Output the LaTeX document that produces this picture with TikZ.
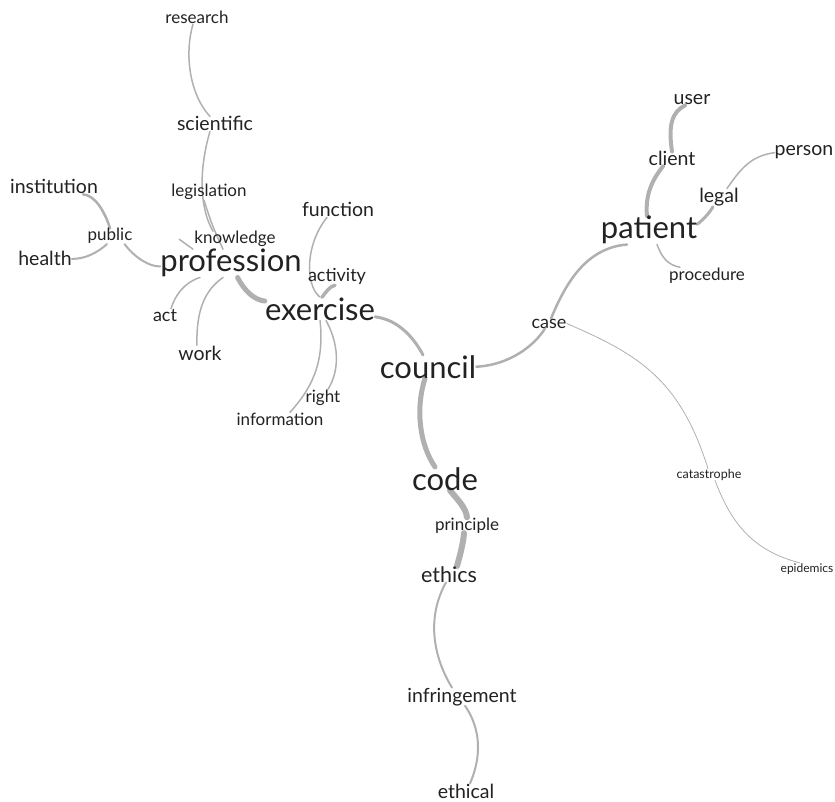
\documentclass[tikz,border=0pt]{standalone}
\usepackage{fontspec}
\setmainfont{Lato}
\usetikzlibrary{calc,backgrounds}

\definecolor{edgegray}{RGB}{176,176,176}
\definecolor{worddark}{RGB}{34,34,34}

\tikzset{
    word/.style={anchor=base, inner sep=0pt, text=worddark},
    wordL/.style={word, font=\fontsize{31}{32}\selectfont},
    wordE/.style={word, font=\fontsize{21.5}{22}\selectfont},
    wordM/.style={word, font=\fontsize{19.5}{20}\selectfont},
    wordR/.style={word, font=\fontsize{18}{19}\selectfont},
    wordS/.style={word, font=\fontsize{17}{18}\selectfont},
    wordT/.style={word, font=\fontsize{12}{13}\selectfont},
    link/.style={draw=edgegray, line cap=round, line width=1.5pt},
}

\begin{document}
\begin{tikzpicture}[x=1pt, y=-1pt]
        \useasboundingbox (0,0) rectangle (835,802);

        % Left branch
        \node (Research) at (197,24) [wordS] {research};
        \node (Scientific) at (215,131) [wordM] {scientific};
        \node (Legislation) at (209,197) [wordS] {legislation};
        \node (Knowledge) at (235,244) [wordS] {knowledge};
        \node (Institution) at (54,194) [wordM] {institution};
        \node (Public) at (110,241) [wordS] {public};
        \node (Health) at (45,266) [wordM] {health};
        \node (Profession) at (231,272) [wordL] {profession};
        \node (Act) at (165,321) [wordR] {act};
        \node (Work) at (200,360) [wordM] {work};

        % Exercise
        \node (Function) at (338,217) [wordM] {function};
        \node (Activity) at (337,282) [wordR] {activity};
        \node (Exercise) at (320,320) [wordL] {exercise};
        \node (Right) at (323,402) [wordS] {right};
        \node (Information) at (280,425) [wordS] {information};

        % Centre
        \node (Council) at (428,378) [wordL] {council};

        % Right branch
        \node (Case) at (549,328) [wordR] {case};
        \node (Patient) at (649,239) [wordL] {patient};
        \node (User) at (692,105) [wordM] {user};
        \node (Client) at (672,166) [wordM] {client};
        \node (Legal) at (719,203) [wordM] {legal};
        \node (Person) at (804,156) [wordM] {person};
        \node (Procedure) at (707,280) [wordS] {procedure};
        \node (Catastrophe) at (709,478) [wordT, font=\fontsize{12.5}{13}\selectfont] {catastrophe};
        \node (Epidemics) at (807,572) [wordT] {epidemics};

        % Lower branch
        \node (Code) at (445,490) [wordL] {code};
        \node (Principle) at (467,530) [wordS] {principle};
        \node (Ethics) at (449,582) [wordE] {ethics};
        \node (Infringement) at (462,702) [wordM] {infringement};
        \node (Ethical) at (466,798) [wordM] {ethical};

        % Connectors
        \begin{scope}[on background layer]
        \draw [link] ([xshift=-4pt]Research.south) .. controls (184,55) and (190,95) .. ([xshift=-5pt]Scientific.north);
        \draw [link] ([xshift=-5pt]Scientific.south) .. controls (200,165) and (198,205) .. ([xshift=-22pt]Knowledge.north);
        \draw [link] ([xshift=-5pt]Legislation.south) .. controls (212,225) .. ([xshift=-8pt]Profession.north);
        \draw [link] ([xshift=-15pt]Knowledge.west) -- ([xshift=-38pt]Profession.north);

        \draw [link, line width=2pt] ([xshift=-8pt]Public.south east) .. controls (135,258) and (150,267) .. ([yshift=-3pt]Profession.west);
        \draw [link, line width=2.5pt] (Public.north) .. controls (105,212) and (95,195) .. ([xshift=29pt]Institution.south);
        \draw [link, line width=2pt] ([xshift=-3pt]Public.south) .. controls (97,253) and (85,259) .. (Health.east);
        \draw [link] ([xshift=-31pt]Profession.south) .. controls (185,282) and (175,295) .. ([xshift=6pt]Act.north);
        \draw [link] ([xshift=-8pt]Profession.south) .. controls (205,290) and (196,310) .. ([xshift=-3pt]Work.north);
        \draw [link, line width=5pt] (Profession.-65) .. controls (245,292) and (255,300) .. (Exercise.172);

        \draw [link] ([xshift=-11pt]Function.south) .. controls (305,245) and (305,285) .. (Exercise.north);
        \draw [link, line width=3.5pt] ([xshift=2pt]Exercise.north) .. controls (326,292) and (330,286) .. ([xshift=-2pt]Activity.south);
        \draw [link] (Exercise.south) .. controls (325,365) and (310,390) .. ([xshift=10pt]Information.north);
        \draw [link] ([xshift=6pt]Exercise.south) .. controls (342,350) and (337,375) .. ([xshift=5pt]Right.north);
        \draw [link, line width=3pt] ([yshift=-8pt]Exercise.east) .. controls (400,320) and (415,340) .. ([xshift=-5pt]Council.north);

        \draw [link, line width=5pt] ([xshift=-3pt]Council.south) .. controls (415,410) and (420,445) .. ([xshift=-10pt]Code.north);
        \draw [link, line width=6pt] ([xshift=5pt]Code.south) .. controls (458,500) and (466,508) .. (Principle.north);
        \draw [link, line width=6pt] ([xshift=-3pt]Principle.south) .. controls (463,545) and (460,555) .. ([xshift=8pt]Ethics.north);
        \draw [link, line width=2pt] ([xshift=-3pt]Ethics.south) .. controls (425,620) and (435,660) .. ([xshift=-10pt]Infringement.north);
        \draw [link, line width=2pt] ([xshift=3pt]Infringement.south) .. controls (485,735) and (478,765) .. ([xshift=4pt]Ethical.north);

        \draw [link, line width=2.5pt] (Council.east) .. controls (510,365) and (535,345) .. ([xshift=-4pt]Case.south);
        \draw [link, line width=2.5pt] ([xshift=2pt]Case.north) .. controls (565,285) and (585,248) .. ([xshift=-22pt]Patient.south);
        \draw [link, line width=0.8pt] (Case.east) .. controls (640,355) and (680,380) .. ([xshift=-1pt]Catastrophe.north);
        \draw [link, line width=0.8pt] ([xshift=6pt]Catastrophe.south) .. controls (730,520) and (750,550) .. ([xshift=-7pt]Epidemics.north);

        \draw [link, line width=4pt] ([xshift=-2pt]Patient.north) .. controls (645,195) and (652,180) .. ([xshift=-9pt]Client.south);
        \draw [link, line width=4pt] (Client.north) .. controls (668,125) and (672,112) .. ([xshift=-7pt]User.south);
        \draw [link, line width=3pt] ([yshift=6pt]Patient.east) .. controls (705,218) and (710,212) .. ([xshift=-6pt]Legal.south);
        \draw [link] ([xshift=8pt]Legal.north) .. controls (740,170) and (750,156) .. (Person.west);
        \draw [link] ([xshift=8pt]Patient.south) .. controls (662,258) and (668,265) .. ([xshift=-27pt]Procedure.north);
        \end{scope}

    \end{tikzpicture}
\end{document}
